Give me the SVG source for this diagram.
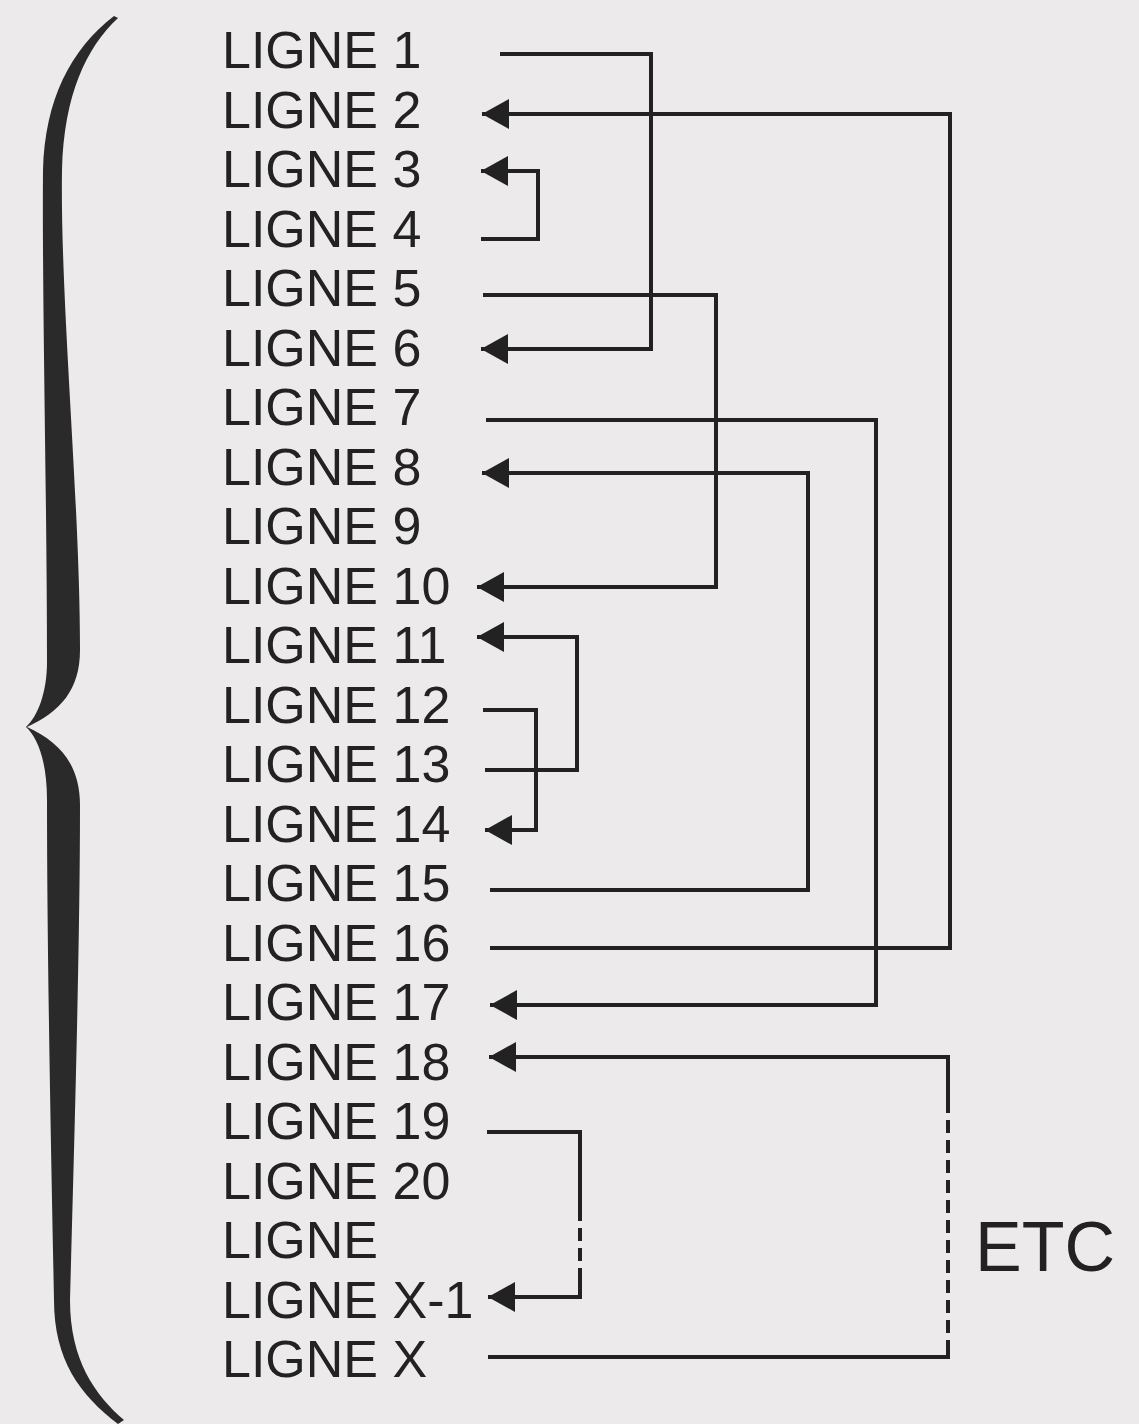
<svg xmlns="http://www.w3.org/2000/svg" width="1139" height="1424" viewBox="0 0 1139 1424">
<style>
.t{font-family:"Liberation Sans",Arial,sans-serif;font-size:52px;fill:#222}
.c{fill:none;stroke:#222;stroke-width:4;stroke-linejoin:miter}
.d{fill:none;stroke:#222;stroke-width:4;stroke-dasharray:13 7}
</style>
<defs>
<marker id="ah" markerUnits="userSpaceOnUse" markerWidth="28" markerHeight="30" refX="27" refY="15" orient="auto" viewBox="0 0 28 30">
<path d="M0,0 L27,15 L0,30 Z" fill="#222"/>
</marker>
</defs>
<rect width="1139" height="1424" fill="#EDEAEB"/>
<g id="brace">
<path fill="#2a2a2a" d="M118,18 C86,48 64,95 62,170 C60,300 80,500 80,650 C80,690 60,712 27,727 C60,742 80,765 80,805 C80,950 74,1150 70,1300 C70,1360 95,1395 124,1420 L118,1424 C80,1395 54,1360 54,1300 C51,1150 47,950 47,800 C47,762 38,738 26,727 C38,716 47,692 47,662 C47,500 42,300 43,170 C45,100 70,50 114,16 Z"/>
</g>
<g id="n1"><text class="t" x="222" y="68">LIGNE 1</text></g>
<g id="n2"><text class="t" x="222" y="127.5">LIGNE 2</text></g>
<g id="n3"><text class="t" x="222" y="187">LIGNE 3</text></g>
<g id="n4"><text class="t" x="222" y="246.5">LIGNE 4</text></g>
<g id="n5"><text class="t" x="222" y="306">LIGNE 5</text></g>
<g id="n6"><text class="t" x="222" y="365.5">LIGNE 6</text></g>
<g id="n7"><text class="t" x="222" y="425">LIGNE 7</text></g>
<g id="n8"><text class="t" x="222" y="484.5">LIGNE 8</text></g>
<g id="n9"><text class="t" x="222" y="544">LIGNE 9</text></g>
<g id="n10"><text class="t" x="222" y="603.5">LIGNE 10</text></g>
<g id="n11"><text class="t" x="222" y="663">LIGNE 11</text></g>
<g id="n12"><text class="t" x="222" y="722.5">LIGNE 12</text></g>
<g id="n13"><text class="t" x="222" y="782">LIGNE 13</text></g>
<g id="n14"><text class="t" x="222" y="841.5">LIGNE 14</text></g>
<g id="n15"><text class="t" x="222" y="901">LIGNE 15</text></g>
<g id="n16"><text class="t" x="222" y="960.5">LIGNE 16</text></g>
<g id="n17"><text class="t" x="222" y="1020">LIGNE 17</text></g>
<g id="n18"><text class="t" x="222" y="1079.5">LIGNE 18</text></g>
<g id="n19"><text class="t" x="222" y="1139">LIGNE 19</text></g>
<g id="n20"><text class="t" x="222" y="1198.5">LIGNE 20</text></g>
<g id="n21"><text class="t" x="222" y="1258">LIGNE</text></g>
<g id="n22"><text class="t" x="222" y="1317.5">LIGNE X-1</text></g>
<g id="n23"><text class="t" x="222" y="1377">LIGNE X</text></g>
<g id="etc"><text class="t" x="975" y="1271" style="font-size:70px">ETC</text></g>
<g id="connectors">
<path class="c" d="M500,54 H651 V349 H481" marker-end="url(#ah)"/>
<path class="c" d="M490,948 H950 V114 H482" marker-end="url(#ah)"/>
<path class="c" d="M481,239 H538 V171 H481" marker-end="url(#ah)"/>
<path class="c" d="M483,295 H716 V587 H477" marker-end="url(#ah)"/>
<path class="c" d="M486,420 H876 V1005 H490" marker-end="url(#ah)"/>
<path class="c" d="M490,890 H808 V473 H482" marker-end="url(#ah)"/>
<path class="c" d="M485,770 H577 V637 H477" marker-end="url(#ah)"/>
<path class="c" d="M483,710 H536 V830 H485" marker-end="url(#ah)"/>
<path class="c" d="M487,1132 H580 V1208"/>
<path class="d" d="M580,1208 V1280"/>
<path class="c" d="M580,1280 V1297 H488" marker-end="url(#ah)"/>
<path class="c" d="M488,1357 H948 V1353"/>
<path class="d" d="M948,1353 V1110"/>
<path class="c" d="M948,1110 V1057 H489" marker-end="url(#ah)"/>
</g>
</svg>
